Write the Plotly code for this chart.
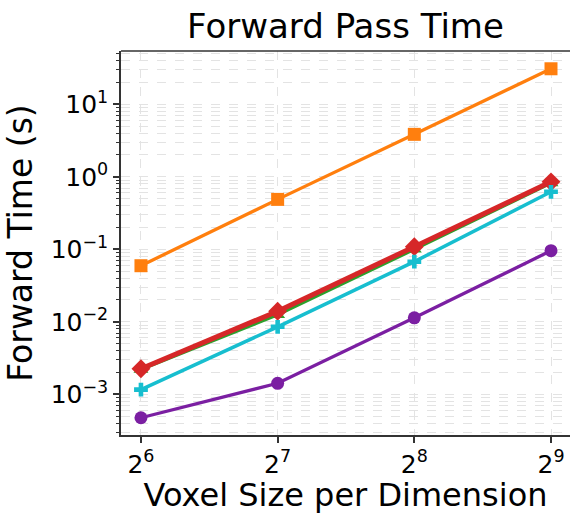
import numpy as np
import plotly.graph_objects as go

sizes = [64, 128, 256, 512]
x_tick_labels = ["2<sup>6</sup>", "2<sup>7</sup>", "2<sup>8</sup>", "2<sup>9</sup>"]

orange_times = [0.0594, 0.488, 3.85, 30.9]
green_times = [0.0022, 0.0125, 0.100, 0.82]
red_times = [0.00225, 0.0140, 0.1086, 0.853]
cyan_times = [0.00116, 0.00853, 0.0675, 0.621]
purple_times = [0.000475, 0.00142, 0.01136, 0.0957]

y_major = [1e-3, 1e-2, 1e-1, 1e0, 1e1]
y_major_labels = ["10<sup>\u22123</sup>", "10<sup>\u22122</sup>", "10<sup>\u22121</sup>",
                  "10<sup>0</sup>", "10<sup>1</sup>"]
y_minor = [m * 10.0 ** e for e in range(-4, 2) for m in range(2, 10)]

series = [
    (orange_times, "#ff7f0e", "square", 13, 3.3),
    (green_times, "#2ca02c", "triangle-up", 13, 3.3),
    (red_times, "#d62728", "diamond", 14.5, 5),
    (cyan_times, "#17becf", "cross", 11.5, 3.5),
    (purple_times, "#7b1fa2", "circle", 13, 3.3),
]

fig = go.Figure()
for vals, col, sym, ms, lw in series:
    fig.add_trace(go.Scatter(
        x=sizes, y=vals, mode="lines+markers",
        line=dict(color=col, width=lw),
        marker=dict(color=col, symbol=sym, size=ms, line=dict(width=0)),
        showlegend=False,
    ))

grid_col = "#e3e3e3"
font_family = "DejaVu Sans"

fig.update_layout(
    width=570, height=514,
    margin=dict(l=121, r=0, t=51, b=79),
    paper_bgcolor="white", plot_bgcolor="white",
    font=dict(family=font_family, color="black"),
    title=dict(text="Forward Pass Time", font=dict(size=34, family=font_family),
               x=(121 + 570) / 2 / 570, xanchor="center",
               y=1 - 26 / 514, yanchor="middle", yref="container"),
    shapes=[dict(type="line", xref="paper", yref="paper", x0=0, x1=1, y0=1, y1=1,
                 line=dict(color="#333", width=1.5))],
)

fig.update_xaxes(
    type="log",
    range=[np.log10(2 ** 5.854), np.log10(2 ** 9.139)],
    tickmode="array", tickvals=sizes, ticktext=x_tick_labels,
    tickfont=dict(size=25),
    ticks="outside", ticklen=6, tickwidth=1.5, tickcolor="#333",
    showgrid=True, gridcolor=grid_col, griddash="dash", gridwidth=1,
    showline=True, linecolor="#333", linewidth=1.5, mirror=False,
    zeroline=False,
    title=dict(text="Voxel Size per Dimension", font=dict(size=32), standoff=6),
)

fig.update_yaxes(
    type="log",
    range=[-3.561, 1.735],
    tickmode="array", tickvals=y_major, ticktext=y_major_labels,
    tickfont=dict(size=25),
    ticks="outside", ticklen=6, tickwidth=1.5, tickcolor="#333",
    showgrid=True, gridcolor=grid_col, griddash="dash", gridwidth=1,
    minor=dict(tickmode="array", tickvals=y_minor, ticks="outside", ticklen=3,
               tickwidth=1, tickcolor="#333", showgrid=True, gridcolor=grid_col,
               griddash="dash", gridwidth=1),
    showline=True, linecolor="#333", linewidth=1.5, mirror=False,
    zeroline=False,
    title=dict(text="Forward Time (s)", font=dict(size=33), standoff=8),
)

fig.write_html("out.html")
